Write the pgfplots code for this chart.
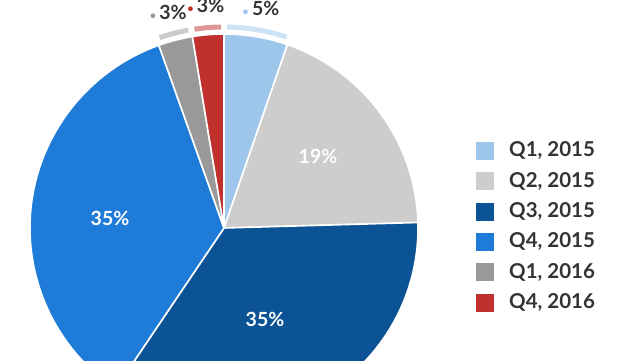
\documentclass[border=0pt]{standalone}
\usepackage{pgfplots}
\usepackage{pgfplotstable}
\pgfplotsset{compat=1.18}
\usepackage{fontspec}
\setmainfont{Lato}
\definecolor{cA}{HTML}{9DC6EA}
\definecolor{cB}{HTML}{CDCDCD}
\definecolor{cC}{HTML}{0B5394}
\definecolor{cD}{HTML}{1F7BD8}
\definecolor{cE}{HTML}{999999}
\definecolor{cF}{HTML}{C0302C}
\definecolor{txt}{HTML}{333333}

\pgfplotstableread{
idx value
0 5.3
1 19.25
2 34.9
3 35.1
4 2.85
5 2.6
}\piedata

\begin{document}
\begin{tikzpicture}
\begin{axis}[x=1bp, y=1bp, xmin=-224, xmax=416, ymin=-132, ymax=228,
  axis lines=none, ticks=none, clip=false]
\addplot[draw=none] coordinates {(0,0)};
\pgfplotsextra{
  \gdef\cum{0}
  \foreach \i/\col/\ring in {0/cA/1,1/cB/0,2/cC/0,3/cD/0,4/cE/1,5/cF/1}{
    \pgfplotstablegetelem{\i}{value}\of\piedata
    \let\v\pgfplotsretval
    \pgfmathsetmacro\aS{90-3.6*\cum}
    \pgfmathsetmacro\aE{90-3.6*(\cum+\v)}
    \pgfmathsetmacro\aM{(\aS+\aE)/2}
    \fill[\col, draw=white, line width=1.6bp, line join=round]
      (axis cs:0,0) -- (axis cs:{194*cos(\aS)},{194*sin(\aS)})
      arc[start angle=\aS, end angle=\aE, radius=194bp] -- cycle;
    \ifnum\ring=1
      \pgfmathsetmacro\rS{\aS-0.9}
      \pgfmathsetmacro\rE{\aE+0.9}
      \draw[\col!50, line width=5bp]
        (axis cs:{201*cos(\rS)},{201*sin(\rS)})
        arc[start angle=\rS, end angle=\rE, radius=201bp];
      \node[font=\fontsize{19.5bp}{21bp}\selectfont\bfseries, text=txt, inner sep=0pt]
        at (axis cs:{223*cos(\aM)},{223*sin(\aM)})
        {\textcolor{\col}{\fontsize{11bp}{12bp}\selectfont\textbullet}\,\pgfmathprintnumber[fixed,precision=0,assume math mode=true]{\v}\%};
    \fi
    \pgfmathsetmacro\newcum{\cum+\v}
    \global\let\cum\newcum
  }
  % legend
  \foreach \j/\col/\lab in {0/cA/{Q1, 2015},1/cB/{Q2, 2015},2/cC/{Q3, 2015},3/cD/{Q4, 2015},4/cE/{Q1, 2016},5/cF/{Q4, 2016}}{
    \pgfmathsetmacro\yy{77.3-30.4*\j}
    \fill[\col] (axis cs:252,\yy-9) rectangle (axis cs:270,\yy+9);
    \node[anchor=west, inner sep=0pt, font=\fontsize{20.5bp}{22bp}\selectfont\bfseries, text=txt] at (axis cs:285,\yy) {\lab};
  }
}
% inner labels
\node[font=\fontsize{19.5bp}{21bp}\selectfont\bfseries, text=white] at (axis cs:94,72) {19\%};
\node[font=\fontsize{19.5bp}{21bp}\selectfont\bfseries, text=white] at (axis cs:-114,10) {35\%};
\node[font=\fontsize{19.5bp}{21bp}\selectfont\bfseries, text=white] at (axis cs:41,-91) {35\%};
\end{axis}
\pgfresetboundingbox
\path (current axis.south west) rectangle (current axis.north east);
\end{tikzpicture}
\end{document}
